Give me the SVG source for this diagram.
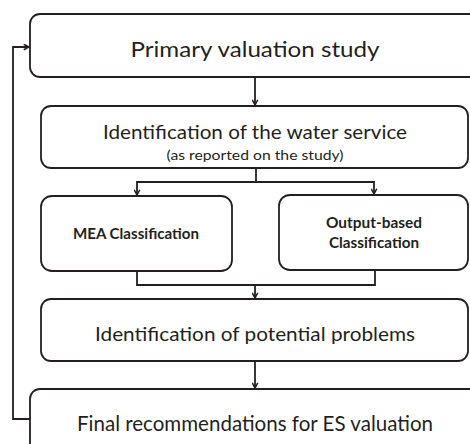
<svg xmlns="http://www.w3.org/2000/svg" width="470" height="444" viewBox="0 0 470 444">
<defs>
<style>
.box{fill:#fff;stroke:#231f20;stroke-width:1.8}
.ln{fill:none;stroke:#231f20;stroke-width:1.8}
.t{font-family:Lato,"Open Sans","Liberation Sans",sans-serif;fill:#231f20;text-anchor:middle}
.b{font-weight:bold;font-size:15px}
</style>
<marker id="ah" viewBox="0 0 10 10" refX="9" refY="5" markerWidth="7" markerHeight="7" orient="auto" markerUnits="userSpaceOnUse">
<path d="M1.5,1 L9,5 L1.5,9" fill="none" stroke="#231f20" stroke-width="2.2"/>
</marker>
</defs>
<rect width="470" height="444" fill="#fff"/>
<g id="connectors">
<line class="ln" x1="255" y1="77" x2="255" y2="105" marker-end="url(#ah)"/>
<polyline class="ln" points="256,168 256,182 137,182 137,195" marker-end="url(#ah)"/>
<polyline class="ln" points="256,182 374,182 374,194" marker-end="url(#ah)"/>
<polyline class="ln" points="137,271 137,285 375,285 375,270"/>
<line class="ln" x1="255" y1="285" x2="255" y2="298" marker-end="url(#ah)"/>
<line class="ln" x1="255" y1="361" x2="255" y2="388" marker-end="url(#ah)"/>
<polyline class="ln" points="30,419 13,419 13,47 29,47" marker-end="url(#ah)"/>
</g>
<g id="primary">
<rect class="box" x="30" y="14" width="460" height="63" rx="10"/>
<text class="t" x="255" y="57" font-size="22" textLength="249" lengthAdjust="spacingAndGlyphs">Primary valuation study</text>
</g>
<g id="identification">
<rect class="box" x="41" y="106" width="427" height="62" rx="10"/>
<text class="t" x="255" y="139" font-size="20" textLength="304" lengthAdjust="spacingAndGlyphs">Identification of the water service</text>
<text class="t" x="255" y="160" font-size="13" textLength="177" lengthAdjust="spacingAndGlyphs">(as reported on the study)</text>
</g>
<g id="mea">
<rect class="box" x="41" y="196" width="191" height="75" rx="11"/>
<text class="t b" x="136" y="239" textLength="126" lengthAdjust="spacingAndGlyphs">MEA Classification</text>
</g>
<g id="output">
<rect class="box" x="279" y="195" width="189" height="75" rx="11"/>
<text class="t b" x="374" y="228" textLength="96" lengthAdjust="spacingAndGlyphs">Output-based</text>
<text class="t b" x="374" y="248" textLength="90" lengthAdjust="spacingAndGlyphs">Classification</text>
</g>
<g id="problems">
<rect class="box" x="41" y="299" width="427" height="62" rx="10"/>
<text class="t" x="255" y="341" font-size="20" textLength="320" lengthAdjust="spacingAndGlyphs">Identification of potential problems</text>
</g>
<g id="final">
<rect class="box" x="30" y="389" width="460" height="70" rx="10"/>
<text class="t" x="255" y="431" font-size="21" textLength="356" lengthAdjust="spacingAndGlyphs">Final recommendations for ES valuation</text>
</g>
</svg>
